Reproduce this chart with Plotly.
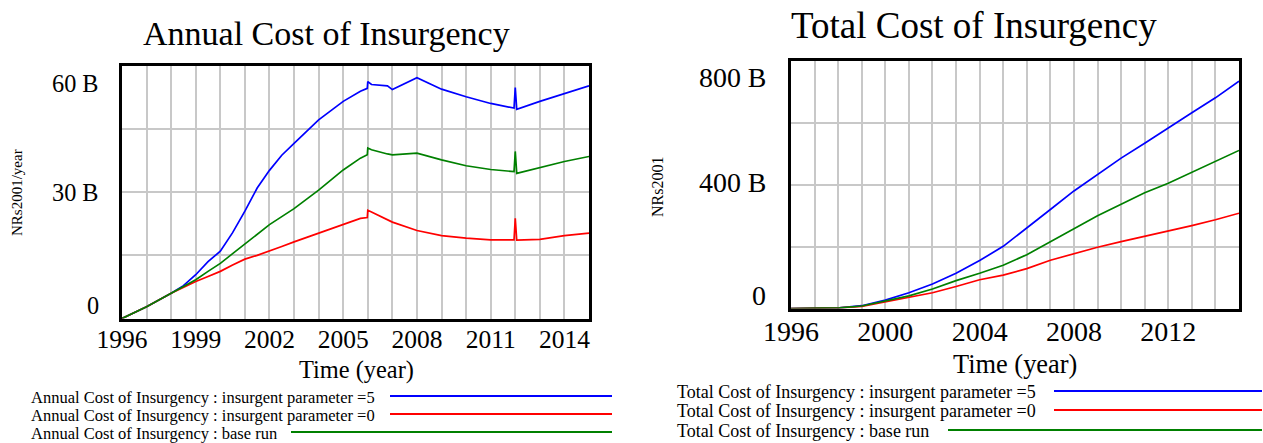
import plotly.graph_objects as go

W, H = 1263, 443
FONT = "Liberation Serif"
BLUE, RED, GREEN = "#0000ff", "#ff0000", "#008000"
GRID = "#c8c8c8"

# Annual Cost of Insurgency, billion NRs2001/year
ANNUAL_TIME = [1996, 1997, 1998, 1998.5, 1999, 1999.5, 2000, 2000.5, 2001, 2001.5,
               2002, 2002.5, 2003, 2004, 2005, 2005.7, 2005.98, 2006, 2006.15,
               2006.8, 2007, 2008, 2009, 2010, 2011, 2011.95, 2012, 2012.06,
               2013, 2014, 2015]
ANNUAL_P5 = [0, 2.8, 6.0, 7.8, 10.4, 13.5, 16.0, 20.4, 25.5, 31.0,
             35.2, 38.8, 41.6, 47.2, 51.6, 54.0, 54.7, 56.3, 55.6,
             55.3, 54.4, 57.2, 54.5, 52.7, 51.1, 50.0, 54.9, 49.7,
             51.6, 53.5, 55.3]
ANNUAL_P0 = [0, 2.8, 6.0, 7.4, 8.8, 10.0, 11.2, 12.7, 14.1, 15.0,
             16.0, 17.1, 18.2, 20.3, 22.5, 23.8, 24.0, 25.7, 25.3,
             23.6, 22.9, 20.9, 19.7, 19.1, 18.7, 18.7, 23.8, 18.6,
             18.8, 19.7, 20.3]
ANNUAL_BASE = [0, 2.8, 6.0, 7.6, 9.2, 11.2, 13.1, 15.4, 17.7, 20.0,
               22.3, 24.2, 26.1, 30.5, 35.3, 38.1, 38.9, 40.5, 40.1,
               39.1, 38.9, 39.3, 37.7, 36.3, 35.4, 34.9, 39.7, 34.5,
               35.9, 37.3, 38.5]

# Total Cost of Insurgency, billion NRs2001
TOTAL_TIME = [1996, 1997, 1998, 1998.05, 1999, 2000, 2001, 2002, 2003, 2004,
              2005, 2006, 2007, 2008, 2009, 2010, 2011, 2012, 2013, 2014, 2015]
TOTAL_P5 = [0, 0, 0, 2, 9, 27, 51, 79, 114, 155,
            201, 262, 320, 380, 433, 486, 534, 584, 633, 681, 735]
TOTAL_P0 = [0, 0, 0, 2, 7, 21, 35, 51, 71, 93,
            108, 129, 156, 178, 198, 216, 233, 252, 268, 287, 308]
TOTAL_BASE = [0, 0, 0, 2, 8, 24, 41, 63, 90, 114,
              140, 174, 216, 259, 300, 337, 374, 405, 440, 475, 511]

ANNUAL_XTICKS = [1996, 1999, 2002, 2005, 2008, 2011, 2014]
TOTAL_XTICKS = [1996, 2000, 2004, 2008, 2012]
ANNUAL_YTICKS = [0, 30, 60]
ANNUAL_YTEXT = ["0", "30 B", "60 B"]
TOTAL_YTICKS = [0, 400, 800]
TOTAL_YTEXT = ["0", "400 B", "800 B"]

ANNUAL_NAMES = ["Annual Cost of Insurgency : insurgent parameter =5",
                "Annual Cost of Insurgency : insurgent parameter =0",
                "Annual Cost of Insurgency : base run"]
TOTAL_NAMES = ["Total Cost of Insurgency : insurgent parameter =5",
               "Total Cost of Insurgency : insurgent parameter =0",
               "Total Cost of Insurgency : base run"]
COLORS = [BLUE, RED, GREEN]


def px_x(p):
    return p / W


def px_y(p):
    return 1 - p / H


fig = go.Figure()

for ys, c in zip([ANNUAL_P5, ANNUAL_P0, ANNUAL_BASE], COLORS):
    fig.add_trace(go.Scatter(x=ANNUAL_TIME, y=ys, mode="lines", xaxis="x", yaxis="y",
                             line=dict(color=c, width=1.7), showlegend=False))
for ys, c in zip([TOTAL_P5, TOTAL_P0, TOTAL_BASE], COLORS):
    fig.add_trace(go.Scatter(x=TOTAL_TIME, y=ys, mode="lines", xaxis="x2", yaxis="y2",
                             line=dict(color=c, width=1.7), showlegend=False))

axis_common = dict(showgrid=True, gridcolor=GRID, gridwidth=2, showline=True,
                   linecolor="black", linewidth=3, mirror=True, zeroline=False,
                   ticks="", fixedrange=True, automargin=False)

fig.update_layout(
    template="none",
    width=W, height=H, margin=dict(l=0, r=0, t=0, b=0, pad=0, autoexpand=False),
    paper_bgcolor="white", plot_bgcolor="white",
    font=dict(family=FONT, color="black"),
    xaxis=dict(domain=[px_x(122), px_x(589)], range=[1996, 2015], anchor="y",
               tickvals=ANNUAL_XTICKS, tickfont=dict(size=25.5), ticklabelstandoff=-4,
               minor=dict(dtick=1, tick0=1996, showgrid=True, gridcolor=GRID, gridwidth=2),
               **axis_common),
    yaxis=dict(domain=[px_y(318.5), px_y(66)], range=[0, 60], anchor="x", dtick=15,
               showticklabels=False, **axis_common),
    xaxis2=dict(domain=[px_x(791), px_x(1239)], range=[1996, 2015], anchor="y2",
                tickvals=TOTAL_XTICKS, tickfont=dict(size=28), ticklabelstandoff=-4,
                minor=dict(dtick=1, tick0=1996, showgrid=True, gridcolor=GRID, gridwidth=2),
                **axis_common),
    yaxis2=dict(domain=[px_y(308.5), px_y(61)], range=[0, 800], anchor="x2", dtick=200,
                showticklabels=False, **axis_common),
)

ann = []
shapes = []

# y tick labels (Vensim style: end labels pulled inside the frame)
shift_for = {0: 13, 1: 0, 2: -17}
for i, (v, t) in enumerate(zip(ANNUAL_YTICKS, ANNUAL_YTEXT)):
    ann.append(dict(text=t, xref="paper", yref="y", x=px_x(101), y=v, xanchor="right",
                    yanchor="middle", yshift=shift_for[i], showarrow=False,
                    font=dict(size=24.3)))
shift_for2 = {0: 13.5, 1: 2.5, 2: -16.5}
for i, (v, t) in enumerate(zip(TOTAL_YTICKS, TOTAL_YTEXT)):
    ann.append(dict(text=t, xref="paper", yref="y2", x=px_x(768), y=v, xanchor="right",
                    yanchor="middle", yshift=shift_for2[i], showarrow=False,
                    font=dict(size=27.9)))

# titles and axis titles
ann += [
    dict(text="Annual Cost of Insurgency", x=px_x(326), y=px_y(33), font=dict(size=34)),
    dict(text="Total Cost of Insurgency", x=px_x(974), y=px_y(25), font=dict(size=37)),
    dict(text="Time (year)", x=px_x(356), y=px_y(370), font=dict(size=24.4)),
    dict(text="Time (year)", x=px_x(1015), y=px_y(364), font=dict(size=26.4)),
    dict(text="NRs2001/year", x=px_x(17), y=px_y(193), textangle=-90, font=dict(size=15)),
    dict(text="NRs2001", x=px_x(658), y=px_y(187), textangle=-90, font=dict(size=16)),
]
for a in ann[-6:]:
    a.update(xref="paper", yref="paper", xanchor="center", yanchor="middle", showarrow=False)

# legends
left_rows = [397, 415, 433]
left_line_start = [390, 390, 291]
for name, c, yy, x0 in zip(ANNUAL_NAMES, COLORS, left_rows, left_line_start):
    ann.append(dict(text=name, xref="paper", yref="paper", x=px_x(29), y=px_y(yy),
                    xanchor="left", yanchor="middle", showarrow=False,
                    font=dict(size=16.5)))
    shapes.append(dict(type="line", xref="paper", yref="paper", x0=px_x(x0), x1=px_x(612),
                       y0=px_y(yy - 1), y1=px_y(yy - 1), line=dict(color=c, width=2)))
right_rows = [392, 411, 431]
right_line_start = [1054, 1054, 948]
for name, c, yy, x0 in zip(TOTAL_NAMES, COLORS, right_rows, right_line_start):
    ann.append(dict(text=name, xref="paper", yref="paper", x=px_x(675), y=px_y(yy),
                    xanchor="left", yanchor="middle", showarrow=False,
                    font=dict(size=18)))
    shapes.append(dict(type="line", xref="paper", yref="paper", x0=px_x(x0), x1=px_x(1262),
                       y0=px_y(yy - 1), y1=px_y(yy - 1), line=dict(color=c, width=2)))

fig.update_layout(annotations=ann, shapes=shapes)

fig.write_html("out.html", config={"displayModeBar": False},
               post_script="document.body.style.margin='0';")
